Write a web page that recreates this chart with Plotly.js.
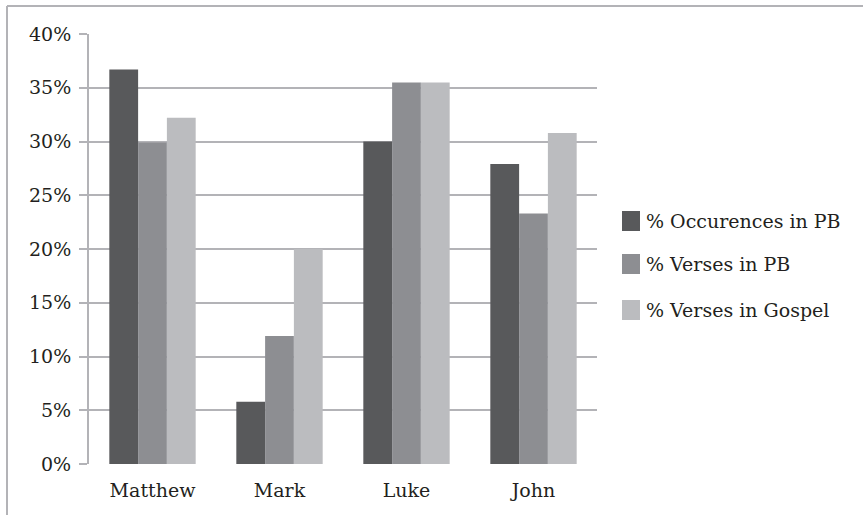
<!DOCTYPE html>
<html>
<head>
<meta charset="utf-8">
<script src="https://cdn.plot.ly/plotly-3.0.1.min.js"></script>
<style>html,body{margin:0;padding:0;background:#fff;}#chart{width:863px;height:515px;}</style>
</head>
<body>
<div id="chart"></div>
<script>
var categories = ["Matthew", "Mark", "Luke", "John"];
var seriesNames = ["% Occurences in PB", "% Verses in PB", "% Verses in Gospel"];
var occurencesInPB = [36.7, 5.8, 30.0, 27.9];
var versesInPB = [29.9, 11.9, 35.5, 23.3];
var versesInGospel = [32.2, 20.0, 35.5, 30.8];
var yTickValues = [0, 5, 10, 15, 20, 25, 30, 35, 40];
var yTickLabels = ["0%", "5%", "10%", "15%", "20%", "25%", "30%", "35%", "40%"];

var colors = ["#58595b", "#8d8e92", "#bbbcbf"];
var gridColor = "#b3b3b7";
var fontFam = "DejaVu Serif";

var W = 863, H = 515;
var M = {l: 89, r: 266, t: 34, b: 51};
var pw = W - M.l - M.r, ph = H - M.t - M.b;
function px2x(px) { return (px - M.l) / pw; }
function px2y(py) { return (H - M.b - py) / ph; }

var seriesValues = [occurencesInPB, versesInPB, versesInGospel];
var data = seriesValues.map(function (vals, i) {
  return {
    type: "bar",
    x: categories,
    y: vals,
    name: seriesNames[i],
    marker: {color: colors[i], line: {width: 0}},
    hoverinfo: "x+y+name"
  };
});

var shapes = [
  {type: "line", xref: "paper", yref: "paper", x0: px2x(7), x1: px2x(870), y0: px2y(6), y1: px2y(6), line: {color: gridColor, width: 2}},
  {type: "line", xref: "paper", yref: "paper", x0: px2x(7), x1: px2x(7), y0: px2y(6), y1: px2y(520), line: {color: gridColor, width: 2}}
];
var annotations = [];
var legendY = [221, 264, 310];
seriesNames.forEach(function (name, i) {
  shapes.push({type: "rect", xref: "paper", yref: "paper",
    x0: px2x(622), x1: px2x(640), y0: px2y(legendY[i] - 10), y1: px2y(legendY[i] + 10),
    fillcolor: colors[i], line: {width: 0}});
  annotations.push({xref: "paper", yref: "paper", x: px2x(644), y: px2y(legendY[i]),
    xanchor: "left", yanchor: "middle", showarrow: false, text: name,
    font: {family: fontFam, size: 19, color: "#231f20"}});
});

var layout = {
  width: W, height: H,
  margin: M,
  paper_bgcolor: "#ffffff",
  plot_bgcolor: "#ffffff",
  showlegend: false,
  bargap: 0.32,
  bargroupgap: 0,
  barmode: "group",
  font: {family: fontFam, size: 19, color: "#231f20"},
  xaxis: {
    type: "category",
    showgrid: false,
    showline: false,
    zeroline: false,
    ticks: "",
    ticklabelstandoff: 13,
    tickfont: {family: fontFam, size: 19, color: "#231f20"}
  },
  yaxis: {
    range: [0, 40],
    tickvals: yTickValues,
    ticktext: yTickLabels,
    showgrid: true,
    gridcolor: gridColor,
    gridwidth: 2,
    zeroline: false,
    showline: true,
    linecolor: gridColor,
    linewidth: 2,
    ticks: "outside",
    ticklen: 8,
    tickwidth: 2,
    tickcolor: gridColor,
    ticklabelstandoff: 4,
    tickfont: {family: fontFam, size: 19, color: "#231f20"}
  },
  shapes: shapes,
  annotations: annotations
};

Plotly.newPlot("chart", data, layout, {displayModeBar: false, staticPlot: true});
</script>
</body>
</html>
